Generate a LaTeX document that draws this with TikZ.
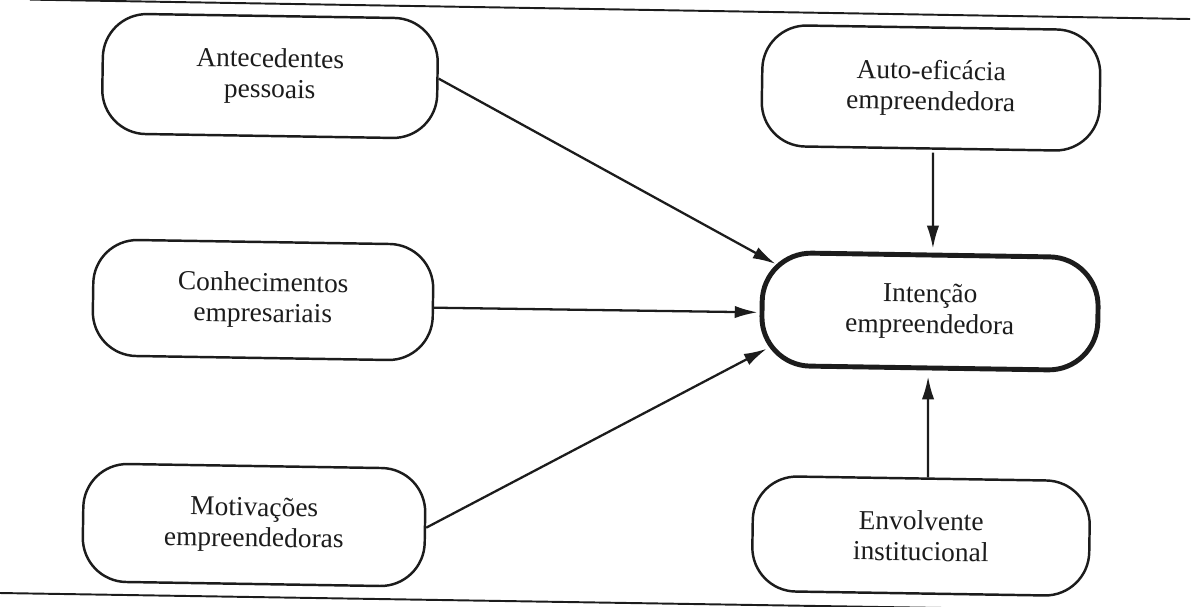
\documentclass[tikz,border=0pt]{standalone}
\usepackage{fontspec}
\setmainfont{Liberation Serif}
\usetikzlibrary{arrows.meta,calc}
\definecolor{ink}{RGB}{28,28,28}
\begin{document}
\begin{tikzpicture}[x=0.02cm,y=-0.02cm,
  box/.style={draw=ink, line width=1.4pt, rounded corners=0.88cm, rotate=-0.9,
    align=center, text=ink, font=\fontsize{15.6}{17.5}\selectfont, inner sep=0pt},
  mainbox/.style={box, line width=2.8pt, rounded corners=0.98cm},
  conn/.style={draw=ink, line width=1.3pt, -{Latex[length=13pt,width=7pt]}},
  rulerline/.style={draw=ink, line width=1.1pt}]
\useasboundingbox (0,0) rectangle (1196,606);
\clip (0,0) rectangle (1196,606);

% frame lines
\coordinate (t1) at (30,-0.4);
\coordinate (t2) at (1190,19);
\coordinate (b1) at (0,593);
\coordinate (b2) at (1196,612);
\draw[rulerline] (t1) -- (t2);
\draw[rulerline] (b1) -- (b2);

% nodes
\node[box, minimum width=6.7cm, minimum height=2.4cm] (ant) at (270,76) {Antecedentes\\pessoais};
\node[box, minimum width=6.8cm, minimum height=2.32cm] (con) at (263,300) {Conhecimentos\\empresariais};
\node[box, minimum width=6.84cm, minimum height=2.36cm] (mot) at (254,525) {Motivações\\empreendedoras};
\node[box, minimum width=6.76cm, minimum height=2.42cm] (auto) at (931,88) {Auto-eficácia\\empreendedora};
\node[mainbox, minimum width=6.72cm, minimum height=2.26cm] (int) at (930,311.5) {Intenção\\empreendedora};
\node[box, minimum width=6.74cm, minimum height=2.3cm] (env) at (921,536) {Envolvente\\institucional};

% connectors
\draw[conn] (ant.east) -- ($(int.north west)+(15,14)$);
\draw[conn] ($(con.east)+(0,5)$) -- ($(int.west)+(-2,3.5)$);
\draw[conn] (mot.east) -- ($(int.south west)+(8,-19)$);
\draw[conn] ($(auto.south)+(3,3)$) -- ($(int.north)+(2,-4)$);
\draw[conn] ($(env.north)+(6,0)$) -- ($(int.south)+(-1,6)$);
\end{tikzpicture}
\end{document}
